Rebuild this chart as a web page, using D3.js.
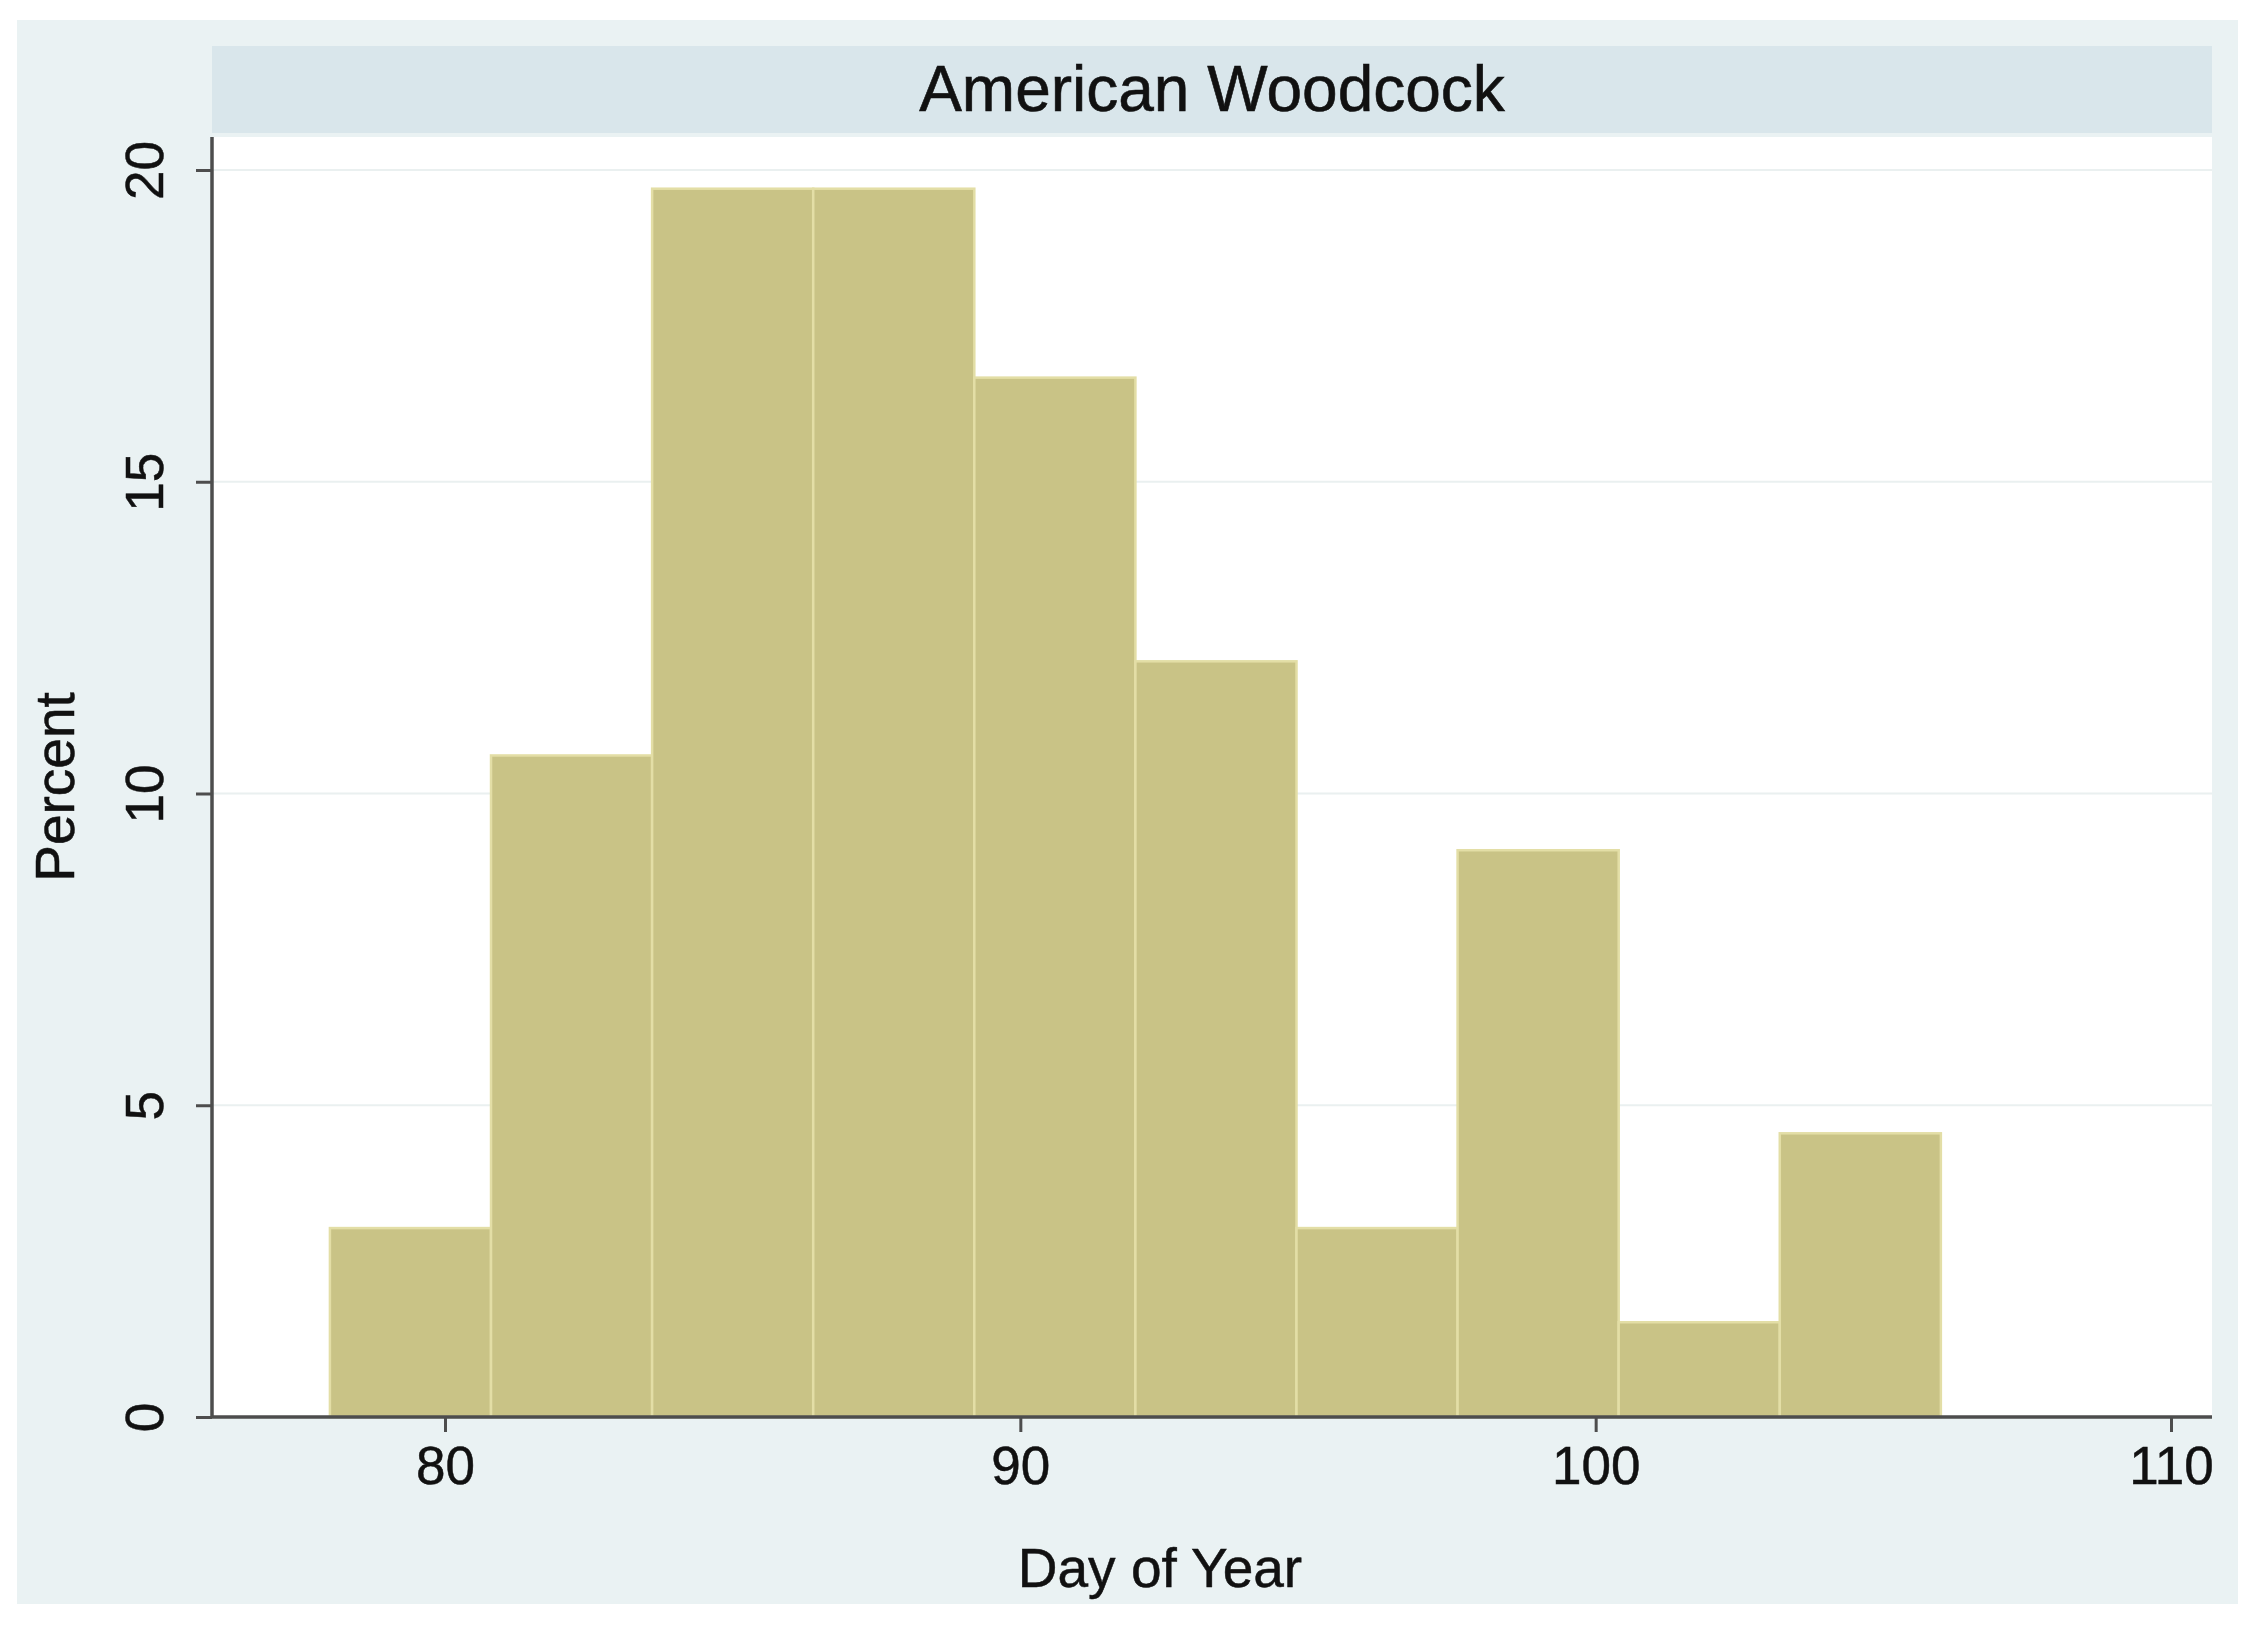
<!DOCTYPE html>
<html>
<head>
<meta charset="utf-8">
<script src="https://cdn.jsdelivr.net/npm/d3@7"></script>
<style>
  html, body { margin: 0; padding: 0; background: #ffffff; }
  svg { display: block; }
  text { font-family: "Liberation Sans", Arial, Helvetica, sans-serif; fill: #111; }
</style>
</head>
<body>
<svg id="chart" width="2260" height="1627"></svg>
<script>
// ---- data ----
const chartTitle = "American Woodcock";
const xAxisTitle = "Day of Year";
const yAxisTitle = "Percent";
const binEdges = [78, 80.8, 83.6, 86.4, 89.2, 92, 94.8, 97.6, 100.4, 103.2, 106];
const percents = [3.03, 10.61, 19.70, 19.70, 16.67, 12.12, 3.03, 9.09, 1.52, 4.55];
const xTicks = [80, 90, 100, 110];
const yTicks = [0, 5, 10, 15, 20];

// ---- layout ----
const svg = d3.select("#chart");
const W = 2260, H = 1627;
const plotLeft = 212, plotRight = 2212, plotTop = 137, plotBottom = 1417;

// outer background
svg.append("rect").attr("x", 0).attr("y", 0).attr("width", W).attr("height", H).attr("fill", "#ffffff");
svg.append("rect").attr("x", 17).attr("y", 20).attr("width", 2221).attr("height", 1584).attr("fill", "#eaf2f3");

// title strip
svg.append("rect").attr("x", plotLeft).attr("y", 46).attr("width", plotRight - plotLeft).attr("height", 87).attr("fill", "#d9e6eb");
svg.append("text").attr("x", (plotLeft + plotRight) / 2).attr("y", 89)
  .attr("text-anchor", "middle").attr("dominant-baseline", "central")
  .attr("font-size", 64).attr("stroke", "#111").attr("stroke-width", 0.6).text(chartTitle);

// plot region
svg.append("rect").attr("x", plotLeft).attr("y", plotTop).attr("width", plotRight - plotLeft).attr("height", plotBottom - plotTop).attr("fill", "#ffffff");

// scales: 80 -> 445, 110 -> 2171 ; 0 -> 1417, 20 -> 170
const x = d3.scaleLinear().domain([80, 110]).range([445, 2171]);
const y = d3.scaleLinear().domain([0, 20]).range([1417, 170]);

// gridlines
svg.append("g").selectAll("line").data(yTicks.filter(d => d > 0)).join("line")
  .attr("x1", plotLeft).attr("x2", plotRight)
  .attr("y1", d => y(d)).attr("y2", d => y(d))
  .attr("stroke", "#eaf0f0").attr("stroke-width", 2);

// bars
const bins = percents.map((v, i) => ({ x0: binEdges[i], x1: binEdges[i + 1], v }));
svg.append("g").selectAll("rect").data(bins).join("rect")
  .attr("x", d => x(d.x0)).attr("width", d => x(d.x1) - x(d.x0))
  .attr("y", d => y(d.v)).attr("height", d => y(0) - y(d.v))
  .attr("fill", "#c9c386").attr("stroke", "#e3dea6").attr("stroke-width", 2.5);

// axes
const xAxis = d3.axisBottom(x).tickValues(xTicks).tickSize(15).tickPadding(14).tickFormat(d3.format("d"));
const gx = svg.append("g").attr("transform", `translate(0,${plotBottom})`).call(xAxis);
gx.select(".domain").attr("d", `M${plotLeft},0H${plotRight}`).attr("stroke", "#4d4d4d").attr("stroke-width", 3.5);
gx.selectAll(".tick line").attr("stroke", "#4d4d4d").attr("stroke-width", 3);
gx.selectAll(".tick text").attr("font-size", 53).attr("fill", "#111")
  .attr("stroke", "#111").attr("stroke-width", 0.5)
  .attr("font-family", '"Liberation Sans", Arial, sans-serif');

const yAxis = d3.axisLeft(y).tickValues(yTicks).tickSize(16).tickFormat(d3.format("d"));
const gy = svg.append("g").attr("transform", `translate(${plotLeft},0)`).call(yAxis);
gy.select(".domain").attr("d", `M0,${plotTop}V${plotBottom}`).attr("stroke", "#4d4d4d").attr("stroke-width", 3.5);
gy.selectAll(".tick line").attr("stroke", "#4d4d4d").attr("stroke-width", 3);
gy.selectAll(".tick text")
  .attr("font-size", 53).attr("fill", "#111")
  .attr("stroke", "#111").attr("stroke-width", 0.5)
  .attr("font-family", '"Liberation Sans", Arial, sans-serif')
  .attr("x", null).attr("dy", null)
  .attr("text-anchor", "middle").attr("dominant-baseline", "central")
  .attr("transform", "translate(-68,0) rotate(-90)");

// axis titles
svg.append("text").attr("x", 1160).attr("y", 1568)
  .attr("text-anchor", "middle").attr("dominant-baseline", "central")
  .attr("font-size", 55).attr("stroke", "#111").attr("stroke-width", 0.5).text(xAxisTitle);
svg.append("text").attr("transform", "translate(55,787) rotate(-90)")
  .attr("text-anchor", "middle").attr("dominant-baseline", "central")
  .attr("font-size", 55).attr("stroke", "#111").attr("stroke-width", 0.5).text(yAxisTitle);
</script>
</body>
</html>
